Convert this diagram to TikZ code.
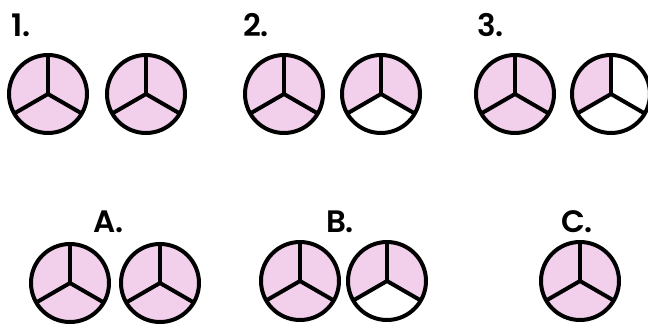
\documentclass[tikz,border=0pt]{standalone}
\usepackage{fontspec}
\newfontfamily\lblfont{Poppins SemiBold}
\definecolor{pinkfill}{RGB}{242,208,236}
\tikzset{
  pie/.style={circle, draw=black, line width=4pt, minimum size=78pt, inner sep=0pt, outer sep=0pt},
  spoke/.style={draw=black, line width=4pt},
  lbl/.style={anchor=base west, inner sep=0pt, outer sep=0pt, font=\lblfont\fontsize{31}{37}\selectfont}
}
% name, position, right sector, left sector, bottom sector
\newcommand\mypie[5]{%
  \fill[#3] (#2) -- ++(-30:39) arc[start angle=-30, end angle=90, radius=39] -- cycle;
  \fill[#4] (#2) -- ++(90:39) arc[start angle=90, end angle=210, radius=39] -- cycle;
  \fill[#5] (#2) -- ++(210:39) arc[start angle=210, end angle=330, radius=39] -- cycle;
  \node[pie] (#1) at (#2) {};
  \draw[spoke] (#1.center) -- (#1.90);
  \draw[spoke] (#1.center) -- (#1.210);
  \draw[spoke] (#1.center) -- (#1.330);
}
\begin{document}
\begin{tikzpicture}[x=1pt, y=1pt]
  \useasboundingbox (0,0) rectangle (648,330);
  \clip (0,0) rectangle (648,330);
  % row 1
  \node[lbl] (l1) at (11,293) {1.};
  \node[lbl] (l2) at (243,293) {2.};
  \node[lbl] (l3) at (477,293) {3.};
  \mypie{p1a}{48,236}{pinkfill}{pinkfill}{pinkfill}
  \mypie{p1b}{146,236}{pinkfill}{pinkfill}{pinkfill}
  \mypie{p2a}{284,236}{pinkfill}{pinkfill}{pinkfill}
  \mypie{p2b}{381,236}{pinkfill}{pinkfill}{white}
  \mypie{p3a}{515,236}{pinkfill}{pinkfill}{pinkfill}
  \mypie{p3b}{611,236}{white}{pinkfill}{white}
  % row 2
  \node[lbl] (la) at (93,98) {A.};
  \node[lbl] (lb) at (326,98) {B.};
  \node[lbl] (lc) at (561,98) {C.};
  \mypie{pa1}{70,47}{pinkfill}{pinkfill}{pinkfill}
  \mypie{pa2}{160,47}{pinkfill}{pinkfill}{pinkfill}
  \mypie{pb1}{300,49}{pinkfill}{pinkfill}{pinkfill}
  \mypie{pb2}{387,49}{pinkfill}{pinkfill}{white}
  \mypie{pc}{580,49}{pinkfill}{pinkfill}{pinkfill}
\end{tikzpicture}
\end{document}
